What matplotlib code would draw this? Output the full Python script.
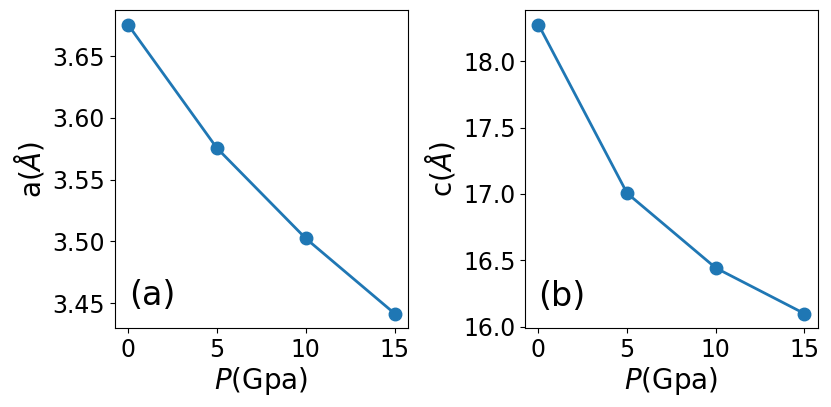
import matplotlib
matplotlib.use('Agg')
import matplotlib.pyplot as plt

s = 17
matplotlib.rc('font', size=s)
matplotlib.rc('xtick', labelsize=s)
matplotlib.rc('ytick', labelsize=s)
matplotlib.rc('axes', labelsize=20)

pressure = [0, 5, 10, 15]
a_lat = [3.6754, 3.5755, 3.5024, 3.4416]
c_lat = [18.276, 17.005, 16.442, 16.098]

fig = plt.figure(figsize=(8.31, 4.07), dpi=100)
ax1 = fig.add_axes([0.138, 0.194, 0.353, 0.781])
ax2 = fig.add_axes([0.632, 0.194, 0.352, 0.781])

ax1.plot(pressure, a_lat, 'o-', color='#1f77b4', lw=2, ms=9)
ax1.set_xlabel('$P$(Gpa)', labelpad=2)
ax1.set_ylabel(r'a($\AA$)')
ax1.set_xticks([0, 5, 10, 15])
ax1.set_yticks([3.45, 3.50, 3.55, 3.60, 3.65])
ax1.text(0.05, 0.05, '(a)', transform=ax1.transAxes, fontsize=24, va='bottom', ha='left')

ax2.plot(pressure, c_lat, 'o-', color='#1f77b4', lw=2, ms=9)
ax2.set_xlabel('$P$(Gpa)', labelpad=2)
ax2.set_ylabel(r'c($\AA$)')
ax2.set_xticks([0, 5, 10, 15])
ax2.set_yticks([16.0, 16.5, 17.0, 17.5, 18.0])
ax2.text(0.045, 0.047, '(b)', transform=ax2.transAxes, fontsize=24, va='bottom', ha='left')

plt.savefig('out.png')
